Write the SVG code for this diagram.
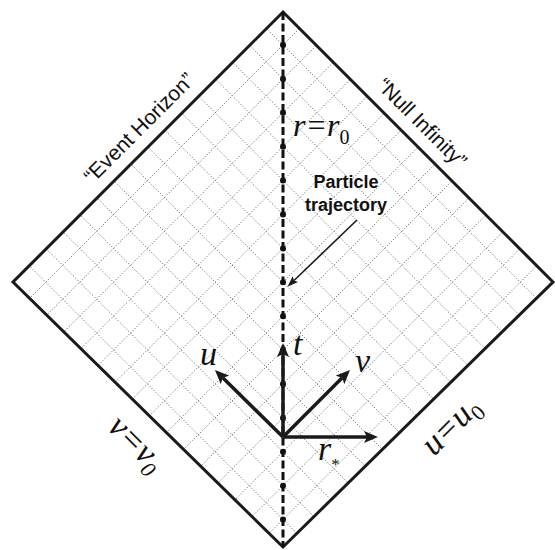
<svg xmlns="http://www.w3.org/2000/svg" width="555" height="550" viewBox="0 0 555 550">
<style>
.grid line{stroke:#444;stroke-width:0.9;stroke-dasharray:1 2;fill:none}
.edge{fill:none;stroke:#1a1a1a;stroke-width:3;stroke-linejoin:miter}
.axis{stroke:#1a1a1a;stroke-width:3.5;fill:none}
.math{font-family:"Liberation Serif",serif;font-style:italic;fill:#111}
.lab{font-family:"Liberation Sans",Arial,sans-serif;fill:#111}
</style>
<defs>
<clipPath id="dia"><polygon points="283,12 553,282 283,547 13,282"/></clipPath>
<marker id="ah" viewBox="0 0 14 12" refX="3" refY="6" markerWidth="14" markerHeight="12" markerUnits="userSpaceOnUse" orient="auto"><path d="M0,0 L14,6 L0,12 L3,6 z" fill="#1a1a1a"/></marker>
<marker id="ahs" viewBox="0 0 11 8" refX="2" refY="4" markerWidth="11" markerHeight="8" markerUnits="userSpaceOnUse" orient="auto"><path d="M0,0 L11,4 L0,8 L2,4 z" fill="#1a1a1a"/></marker>
</defs>
<g id="grid" class="grid" clip-path="url(#dia)">
<line x1="-232.1" y1="560" x2="327.9" y2="0"/>
<line x1="-198.2" y1="560" x2="361.8" y2="0"/>
<line x1="-164.3" y1="560" x2="395.7" y2="0"/>
<line x1="-130.4" y1="560" x2="429.6" y2="0"/>
<line x1="-96.5" y1="560" x2="463.5" y2="0"/>
<line x1="-62.6" y1="560" x2="497.4" y2="0"/>
<line x1="-28.7" y1="560" x2="531.3" y2="0"/>
<line x1="5.2" y1="560" x2="565.2" y2="0"/>
<line x1="39.1" y1="560" x2="599.1" y2="0"/>
<line x1="73" y1="560" x2="633" y2="0"/>
<line x1="106.9" y1="560" x2="666.9" y2="0"/>
<line x1="140.8" y1="560" x2="700.8" y2="0"/>
<line x1="174.7" y1="560" x2="734.7" y2="0"/>
<line x1="208.6" y1="560" x2="768.6" y2="0"/>
<line x1="242.5" y1="560" x2="802.5" y2="0"/>
<line x1="238.1" y1="0" x2="798.1" y2="560"/>
<line x1="204.2" y1="0" x2="764.2" y2="560"/>
<line x1="170.3" y1="0" x2="730.3" y2="560"/>
<line x1="136.4" y1="0" x2="696.4" y2="560"/>
<line x1="102.5" y1="0" x2="662.5" y2="560"/>
<line x1="68.6" y1="0" x2="628.6" y2="560"/>
<line x1="34.7" y1="0" x2="594.7" y2="560"/>
<line x1="0.8" y1="0" x2="560.8" y2="560"/>
<line x1="-33.1" y1="0" x2="526.9" y2="560"/>
<line x1="-67" y1="0" x2="493" y2="560"/>
<line x1="-100.9" y1="0" x2="459.1" y2="560"/>
<line x1="-134.8" y1="0" x2="425.2" y2="560"/>
<line x1="-168.7" y1="0" x2="391.3" y2="560"/>
<line x1="-202.6" y1="0" x2="357.4" y2="560"/>
<line x1="-236.5" y1="0" x2="323.5" y2="560"/>
</g>
<g id="diamond">
<polygon class="edge" points="283,12 553,282 283,547 13,282"/>
</g>
<g id="trajectory">
<line x1="283" y1="12" x2="283" y2="547" stroke="#111" stroke-width="3" stroke-dasharray="8 3.5"/>
<g fill="#111">
<circle cx="283" cy="45" r="3"/><circle cx="283" cy="78.9" r="3"/><circle cx="283" cy="112.8" r="3"/><circle cx="283" cy="146.7" r="3"/><circle cx="283" cy="180.6" r="3"/><circle cx="283" cy="214.5" r="3"/><circle cx="283" cy="248.4" r="3"/><circle cx="283" cy="282.3" r="3"/><circle cx="283" cy="316.2" r="3"/><circle cx="283" cy="350.1" r="3"/><circle cx="283" cy="384" r="3"/><circle cx="283" cy="417.9" r="3"/><circle cx="283" cy="451.8" r="3"/><circle cx="283" cy="485.7" r="3"/><circle cx="283" cy="519.6" r="3"/>
</g>
</g>
<g id="connectors">
<line class="axis" x1="283" y1="437" x2="283" y2="354" marker-end="url(#ah)"/>
<line class="axis" x1="283" y1="437" x2="222.8" y2="377.8" marker-end="url(#ah)"/>
<line class="axis" x1="283" y1="437" x2="342.2" y2="377.8" marker-end="url(#ah)"/>
<line class="axis" x1="283" y1="437" x2="367" y2="437" marker-end="url(#ah)"/>
<line x1="357" y1="220" x2="294" y2="280.5" stroke="#1a1a1a" stroke-width="1.6" marker-end="url(#ahs)"/>
</g>
<g id="label-t"><text class="math" x="293" y="355" font-size="34">t</text></g>
<g id="label-u"><text class="math" x="200" y="365" font-size="34">u</text></g>
<g id="label-v"><text class="math" x="355" y="372" font-size="34">v</text></g>
<g id="label-rstar"><text class="math" x="318" y="460" font-size="34">r<tspan font-size="17" font-style="normal" dy="10">*</tspan></text></g>
<g id="label-r0"><text class="math" x="293" y="136" font-size="32">r=r<tspan font-size="20" font-style="normal" dy="8">0</tspan></text></g>
<g id="label-particle"><text class="lab" font-size="18" font-weight="bold" text-anchor="middle"><tspan x="346" y="188">Particle</tspan><tspan x="346" y="211">trajectory</tspan></text></g>
<g id="label-event"><text class="lab" font-size="21" text-anchor="middle" transform="translate(144,133) rotate(-45)">“Event Horizon”</text></g>
<g id="label-null"><text class="lab" font-size="21" text-anchor="middle" transform="translate(417,128) rotate(45)">“Null Infinity”</text></g>
<g id="label-v0"><text class="math" font-size="34" text-anchor="middle" transform="translate(129,451) rotate(45)">v=v<tspan font-size="22" dy="7">0</tspan></text></g>
<g id="label-u0"><text class="math" font-size="34" text-anchor="middle" transform="translate(458,433) rotate(-45)">u=u<tspan font-size="22" font-style="normal" dy="7">0</tspan></text></g>
</svg>
